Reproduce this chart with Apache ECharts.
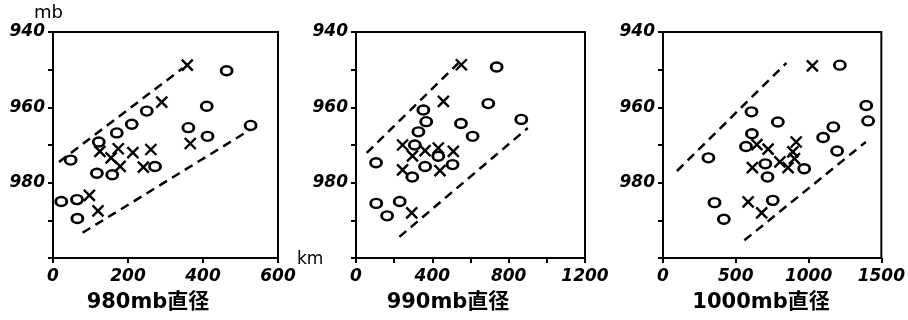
<!DOCTYPE html>
<html><head><meta charset="utf-8">
<script src="https://cdn.jsdelivr.net/npm/echarts@6/dist/echarts.min.js"></script>
<style>html,body{margin:0;padding:0;background:#fff}#c{width:908px;height:320px}</style>
</head><body><div id="c"></div>
<script>
// ---- data (x: km, y: mb) ----
const p1Circles = [[47,974],[22,985],[64,984.5],[65,989.5],[122,969.2],[117,977.5],[158,977.9],[170,966.8],[210,964.5],[250,961],[272,975.7],[361,965.4],[412,967.7],[410,959.7],[463,950.3],[527,964.8]];
const p1Crosses = [[97,983.4],[120,987.5],[125,971.7],[155,973.4],[174,971],[179,975.7],[213,972],[261,971.2],[241,975.9],[290,958.6],[358,948.8],[366,969.6]];
const p1Upper = [[16,974.5],[346,949.6]];
const p1Lower = [[79,993.3],[525,966]];

const p2Circles = [[105,974.7],[106,985.5],[163,988.8],[229,985],[295,978.5],[362,975.7],[506,975.2],[431,973],[308,970],[327,966.5],[368,963.8],[353,960.7],[550,964.3],[611,967.7],[693,959],[737,949.3],[866,963.2]];
const p2Crosses = [[244,970],[296,972.9],[362,971.5],[431,970.8],[510,971.7],[440,976.8],[244,976.6],[292,988],[458,958.4],[552,948.7]];
const p2Upper = [[56,972.1],[536,948.3]];
const p2Lower = [[227,994.4],[900,965.5]];

const p3Circles = [[312,973.4],[354,985.3],[418,989.7],[570,970.4],[611,967],[608,961.2],[703,975],[718,978.5],[754,984.7],[789,963.9],[970,976.3],[1100,968],[1170,965.2],[1196,971.6],[1215,948.8],[1396,959.5],[1409,963.6]];
const p3Crosses = [[645,969.9],[722,971.1],[614,976],[803,974.5],[859,976],[892,971.8],[903,973.6],[915,969.2],[585,985.1],[678,988],[1026,949]];
const p3Upper = [[96,976.9],[848,948.2]];
const p3Lower = [[559,995.3],[1393,969.2]];

const panelTitles = ['980mb直径','990mb直径','1000mb直径'];
const xMax = [600,1200,1500];
const xInterval = [200,200,500];
const xLabelEvery = [200,400,500];
const yTickLabels = [940,960,980];
const yUnit = 'mb';
const xUnit = 'km';

const panels = [
  {c:p1Circles,x:p1Crosses,u:p1Upper,l:p1Lower},
  {c:p2Circles,x:p2Crosses,u:p2Upper,l:p2Lower},
  {c:p3Circles,x:p3Crosses,u:p3Upper,l:p3Lower}
];
const gridPos = [{left:53,width:225},{left:356,width:229},{left:663,width:224}];
const titleX = [148,448,761];

const FONT = 'DejaVu Sans';
const grids=[], xAxes=[], yAxes=[], series=[], graphics=[];
panels.forEach((p,i)=>{
  grids.push({left:gridPos[i].left,width:gridPos[i].width,top:32,height:226,show:true,borderColor:'#000',borderWidth:2,backgroundColor:'transparent'});
  xAxes.push({gridIndex:i,type:'value',min:0,max:xMax[i],interval:xInterval[i],
    axisLine:{show:true,onZero:false,lineStyle:{color:'#000',width:2}},
    axisTick:{show:true,length:5,lineStyle:{color:'#000',width:2}},
    splitLine:{show:false},
    axisLabel:{margin:10,color:'#000',fontFamily:FONT,fontWeight:'bold',fontStyle:'italic',fontSize:17,
      formatter:v=> (v % xLabelEvery[i]===0) ? String(v) : ''}});
  yAxes.push({gridIndex:i,type:'value',min:940,max:1000,interval:10,inverse:true,
    axisLine:{show:true,onZero:false,lineStyle:{color:'#000',width:2}},
    axisTick:{show:true,length:5,lineStyle:{color:'#000',width:2}},
    splitLine:{show:false},
    axisLabel:{margin:8,color:'#000',fontFamily:FONT,fontWeight:'bold',fontStyle:'italic',fontSize:17,
      formatter:v=> yTickLabels.includes(v) ? String(v) : ''}});
  const dash = {color:'#000',width:2.5,type:[9,6]};
  series.push({type:'line',xAxisIndex:i,yAxisIndex:i,data:p.u,symbol:'none',lineStyle:dash,silent:true,z:1});
  series.push({type:'line',xAxisIndex:i,yAxisIndex:i,data:p.l,symbol:'none',lineStyle:dash,silent:true,z:1});
  series.push({type:'scatter',xAxisIndex:i,yAxisIndex:i,data:p.c,symbol:'circle',symbolSize:[11,9],
    itemStyle:{color:'#fff',borderColor:'#000',borderWidth:2.6,opacity:1},z:3});
  series.push({type:'scatter',xAxisIndex:i,yAxisIndex:i,data:p.x,symbol:'path://M0,0L10,10M10,0L0,10',symbolSize:11,
    itemStyle:{color:'transparent',borderColor:'#000',borderWidth:2.4,opacity:1},z:4});
  graphics.push({type:'text',x:titleX[i],y:292,style:{text:panelTitles[i],fill:'#000',font:'bold 21px "DejaVu Sans", "Noto Sans CJK JP", sans-serif',textAlign:'center',textVerticalAlign:'top'}});
});
graphics.push({type:'text',left:34,top:4,style:{text:yUnit,fill:'#000',font:'18px "DejaVu Sans", sans-serif'}});
graphics.push({type:'text',left:297,top:251,style:{text:xUnit,fill:'#000',font:'17px "DejaVu Sans", sans-serif'}});

const chart = echarts.init(document.getElementById('c'),null,{renderer:'canvas'});
chart.setOption({animation:false,backgroundColor:'#fff',grid:grids,xAxis:xAxes,yAxis:yAxes,series:series,graphic:graphics});
</script></body></html>
